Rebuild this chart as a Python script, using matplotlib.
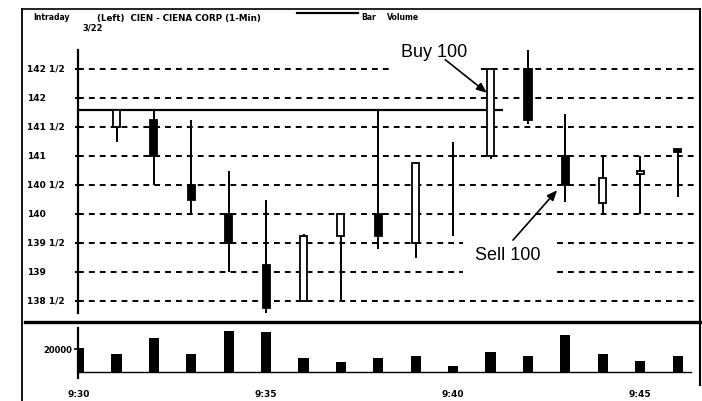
import matplotlib
matplotlib.use("Agg")
import matplotlib.pyplot as plt
from matplotlib.lines import Line2D
import numpy as np

W, H = 702, 401

# minute labels, 9:30 .. 9:46
times = ["9:30", "9:31", "9:32", "9:33", "9:34", "9:35", "9:36", "9:37", "9:38",
         "9:39", "9:40", "9:41", "9:42", "9:43", "9:44", "9:45", "9:46"]
volume = [21000, 15500, 29500, 15500, 35600, 34800, 12200, 8500, 12200,
          13900, 5200, 17400, 13900, 32200, 15700, 9600, 13900]

# 1-min bars from 9:31
candle_times = times[1:]
opens = [141.5, 141.625, 140.5, 140.0, 139.125, 138.5, 139.625, 140.0,
         139.5, 141.0, 141.0, 142.5, 141.0, 140.1875, 140.6875, 141.125]
highs = [141.8, 141.8, 141.625, 140.75, 140.25, 139.65, 140.0, 141.8,
         140.9, 141.25, 142.5, 142.83, 141.72, 141.0, 141.0, 141.125]
lows = [141.25, 140.5, 140.0, 139.0, 138.3, 138.5, 138.5, 139.4,
        139.25, 139.625, 140.95, 141.55, 140.2, 140.0, 140.0, 140.3]
closes = [141.8, 141.0, 140.25, 139.5, 138.375, 139.625, 140.0, 139.625,
          140.875, 141.0, 142.5, 141.625, 140.5, 140.625, 140.75, 141.0625]

ref_price = 141.8
ref_end = "9:41"

price_ticks = [138.5, 139.0, 139.5, 140.0, 140.5, 141.0, 141.5, 142.0, 142.5]
price_labels = ["138 1/2", "139", "139 1/2", "140", "140 1/2",
                "141", "141 1/2", "142", "142 1/2"]
time_ticks = ["9:30", "9:35", "9:40", "9:45"]

buy_time, buy_price = "9:41", 142.09
sell_time, sell_price = "9:43", 140.41


def fx(x):
    return x / W


def fy(y):
    return 1 - y / H


pos = {t: i for i, t in enumerate(times)}

fig = plt.figure(figsize=(W / 100, H / 100), dpi=100)
ax = fig.add_axes([fx(78), fy(322), fx(700 - 78), (322 - 40) / H])
axv = fig.add_axes([fx(78), fy(378), fx(700 - 78), (378 - 326) / H])

xlim = (-0.03, 16.6)

# price panel
ax.set_xlim(*xlim)
ax.set_ylim(138.138, 143.0)
for s in ["top", "right", "bottom"]:
    ax.spines[s].set_visible(False)
ax.spines["left"].set_bounds(138.29, 142.83)
ax.spines["left"].set_linewidth(1.6)
ax.set_xticks([])
ax.set_yticks(price_ticks)
ax.set_yticklabels([])
ax.tick_params(axis="y", direction="inout", length=5, width=1.5)
for v, lab in zip(price_ticks, price_labels):
    ax.text(-0.082, v, lab, transform=ax.get_yaxis_transform(), ha="left",
            va="center", fontsize=6.5, fontweight="bold")

ax.hlines(price_ticks, xlim[0], 16.45, colors="black", lw=1.4,
          linestyles=(0, (3, 2.6)), zorder=1)
ax.hlines(ref_price, xlim[0], pos[ref_end] + 0.33, colors="black", lw=1.6, zorder=2)

cx = np.array([pos[t] for t in candle_times])
o = np.array(opens)
c = np.array(closes)
ax.vlines(cx, lows, highs, colors="black", lw=1.4, zorder=3)
up = c >= o
bw = 0.19
ax.bar(cx[up], (c - o)[up], bottom=o[up], width=bw, facecolor="white",
       edgecolor="black", lw=1.3, zorder=4)
ax.bar(cx[~up], (o - c)[~up], bottom=c[~up], width=bw, facecolor="black",
       edgecolor="black", lw=1.3, zorder=4)

# trade labels and arrows
label_box = dict(boxstyle="square,pad=0.6", fc="white", ec="none")
arrow = dict(arrowstyle="-|>,head_length=0.6,head_width=0.25",
             color="black", lw=1.2, shrinkA=0, shrinkB=0)
ax.text(9.5, 142.78, "Buy 100", ha="center", va="center", fontsize=13,
        family="Liberation Sans", bbox=label_box, zorder=5)
ax.annotate("", xy=(pos[buy_time] - 0.1, buy_price), xytext=(9.79, 142.66),
            arrowprops=arrow, zorder=6)
ax.text(11.45, 139.28, "Sell 100", ha="center", va="center", fontsize=13,
        family="Liberation Sans",
        bbox=dict(boxstyle="square,pad=0.65", fc="white", ec="none"), zorder=5)
ax.annotate("", xy=(pos[sell_time] - 0.22, sell_price), xytext=(11.6, 139.55),
            arrowprops=arrow, zorder=6)

# volume panel
axv.set_xlim(*xlim)
axv.set_ylim(-5217, 40000)
for s in ["top", "right", "bottom"]:
    axv.spines[s].set_visible(False)
axv.spines["left"].set_bounds(-5217, 38000)
axv.spines["left"].set_linewidth(1.6)
axv.bar(np.arange(len(times)), volume, width=0.27, color="black", zorder=3)
axv.axhline(0, color="black", lw=1.0, xmax=0.985)
axv.set_yticks([20000])
axv.set_yticklabels(["20000"], fontsize=6, fontweight="bold")
axv.tick_params(axis="y", length=3, width=1.2, pad=1)
axv.set_xticks([pos[t] for t in time_ticks])
axv.set_xticklabels(time_ticks, fontsize=6.5, fontweight="bold")
axv.tick_params(axis="x", length=0, pad=8.5)

# frame and header
fig.add_artist(Line2D([fx(22), fx(22)], [fy(9), fy(401)], color="black", lw=1.3))
fig.add_artist(Line2D([fx(22), fx(700)], [fy(9), fy(9)], color="black", lw=1.2))
fig.add_artist(Line2D([fx(700), fx(700)], [fy(9), fy(385)], color="black", lw=1.5))
fig.add_artist(Line2D([fx(25), fx(700)], [fy(322), fy(322)], color="black", lw=2.4))
fig.add_artist(Line2D([fx(297), fx(358)], [fy(13), fy(13)], color="black", lw=1.6))

fig.text(fx(33), fy(18), "Intraday", fontsize=5.5, fontweight="bold", va="center")
fig.text(fx(97), fy(18), "(Left)  CIEN - CIENA CORP (1-Min)", fontsize=6.3,
         fontweight="bold", va="center")
fig.text(fx(361), fy(18), "Bar", fontsize=5.5, fontweight="bold", va="center")
fig.text(fx(387), fy(18), "Volume", fontsize=5.5, fontweight="bold", va="center")
fig.text(fx(82), fy(28), "3/22", fontsize=6, fontweight="bold", va="center")

fig.savefig("out.png", dpi=100)
